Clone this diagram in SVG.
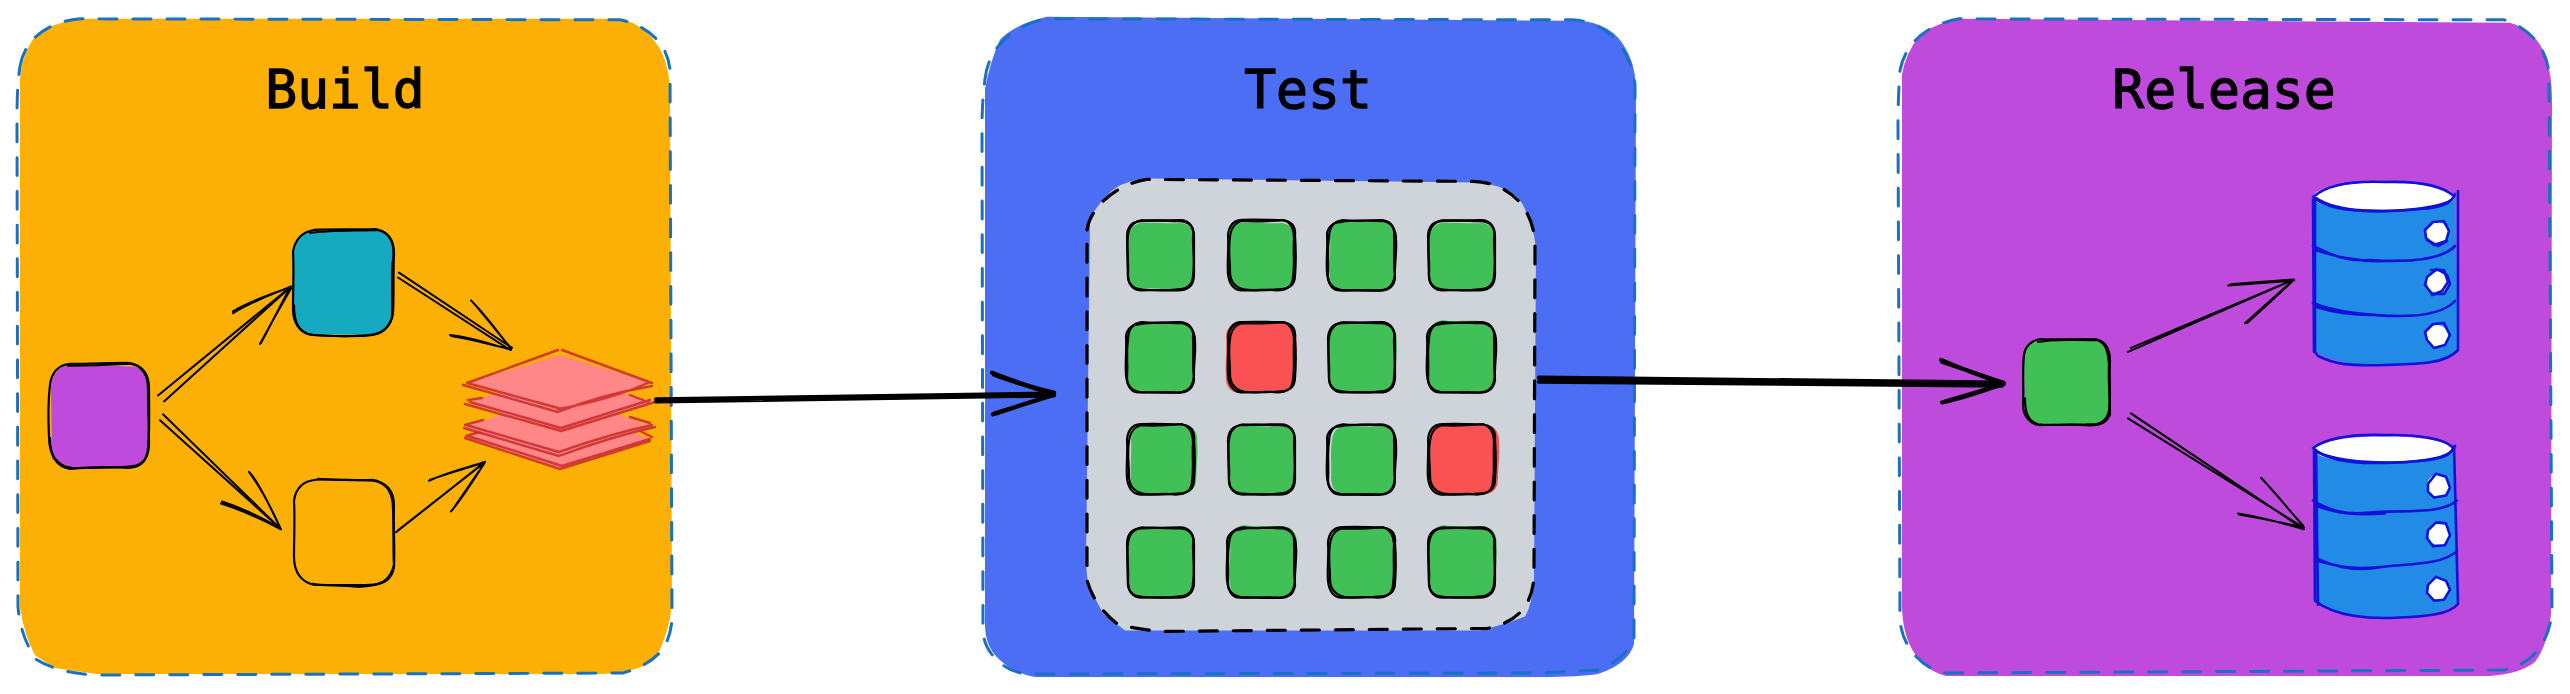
<svg xmlns="http://www.w3.org/2000/svg" width="2570" height="694" viewBox="0 0 2570 694">
<style>
.dash{fill:none;stroke:#1971c2;stroke-width:3;stroke-dasharray:18 16;stroke-linecap:round}
.dashk{fill:none;stroke:#000;stroke-width:3.2;stroke-dasharray:18 16;stroke-linecap:round}
.title{font-family:"DejaVu Sans Mono","Liberation Mono",monospace;font-size:53px;text-anchor:middle;fill:#000;stroke:#000;stroke-width:1.3}
.s{fill:none;stroke:#000;stroke-width:2.2;stroke-linecap:round;stroke-linejoin:round}
.a{fill:none;stroke:#000;stroke-width:2;stroke-linecap:round;stroke-linejoin:round}
.A{fill:none;stroke:#000;stroke-width:4.2;stroke-linecap:round;stroke-linejoin:round}
.g{fill:#40c057}.r{fill:#fa5252}
.p{fill:#ff8787;stroke:none}
.pl{fill:none;stroke:#c92a2a;stroke-opacity:.85;stroke-width:2.4;stroke-linecap:round;stroke-linejoin:round}
.db{fill:#228be6}
.dl{fill:none;stroke:#1111d8;stroke-width:2.6;stroke-linecap:round;stroke-linejoin:round}
.w{fill:#fff}
</style>
<defs>
<path id="f1" d="M13 1C28 0 40 2 54 1C63 2 67 8 67 17C68 30 66 44 67 56C66 66 61 71 51 71C38 72 27 70 14 71C5 70 1 65 0 55C1 42 -1 30 1 16C2 7 6 2 13 1Z"/>
<path id="f2" d="M15 -1C28 1 41 -1 53 0C64 0 70 8 69 19C70 31 68 44 68 56C68 67 62 73 50 72C38 73 27 71 13 73C4 72 -1 66 0 54C-1 42 1 30 0 15C0 6 6 0 15 -1Z"/>
<g id="o1" class="s"><path d="M14 1C28 0 40 1 52 1C62 1 67 7 67 17C67 30 67 42 67 55C67 65 62 71 51 71C38 71 27 70 15 71C6 71 1 65 1 55C0 42 1 30 0 17C0 7 5 1 14 1Z"/><path d="M16 0C30 1 42 0 53 0C63 0 68 8 66 18C66 31 68 43 66 56C66 66 60 70 50 70C37 72 26 71 14 70C5 69 0 64 1 53C2 42 -1 29 1 16C2 6 7 1 16 0"/></g>
<g id="o2" class="s"><path d="M12 0C25 -1 40 0 54 0C63 1 68 6 67 16C68 30 68 44 67 56C67 66 60 70 50 70C38 71 25 71 13 71C5 70 1 64 0 54C-1 42 1 28 0 15C1 6 5 1 12 0Z"/><path d="M15 1C28 2 42 1 55 0C63 2 66 9 66 19C65 32 67 45 65 57C65 66 59 71 49 71C37 69 27 72 16 70C7 68 2 62 2 52C2 40 0 29 2 17C3 8 8 2 15 1"/></g>
<g id="o3" class="s"><path d="M15 0C28 2 40 0 52 0C62 0 67 6 66 16C67 30 65 42 67 54C66 65 62 70 52 71C38 70 28 71 16 71C6 70 0 65 0 56C1 42 -1 30 1 18C1 7 6 1 15 0Z"/><path d="M13 2C27 -1 42 1 55 1C65 3 68 10 68 20C69 32 66 46 67 58C66 68 60 72 48 71C36 72 25 70 12 71C4 71 0 65 -1 53C-2 41 0 27 -1 14C0 6 6 2 13 2"/></g>
</defs>

<g transform="scale(1 .9912)">
<g id="panel-build">
<path fill="#fcb005" d="M80 19L620 19Q642 24 655 42Q668 58 670 90L672 610Q669 640 655 665Q640 678 600 680L97 680L55 674L35 661Q24 640 20 613L20 80Q22 52 38 33Q52 24 80 19Z"/>
<path class="dash" d="M20 67C24 42 45 22 80 19L620 20C648 26 668 44 670 71L672 625C670 650 660 668 623 679L97 681C70 680 50 674 36 665C26 650 20 635 18 612L17 120C17 95 18 80 20 67Z"/>
<text class="title" x="345" y="108.5">Build</text>
</g>

<g id="panel-test">
<path fill="#4c6ef5" d="M1047 17L1580 21Q1612 24 1625 48Q1634 62 1636 85L1634 650Q1628 670 1598 680Q1580 683 1540 683L1035 683Q1015 680 999 665Q985 652 985 630L985 90Q990 62 1000 40Q1015 24 1047 17Z"/>
<path class="dash" d="M985 80C988 50 1010 26 1047 19L1572 20C1610 22 1630 50 1635 85L1634 643C1632 655 1615 670 1598 676L1540 679L1027 680C1005 678 985 660 983 638L982 130C982 110 983 95 985 80Z"/>
<text class="title" x="1308" y="108.5">Test</text>
</g>

<g id="panel-results">
<path fill="#ced4da" d="M1147 180L1473 184Q1510 186 1522 205Q1533 225 1536 250L1534 590Q1530 615 1525 622Q1505 630 1480 636L1125 636L1103 619L1088 590L1086 570L1090 220Q1105 195 1120 187Q1130 182 1147 180Z"/>
<path class="dashk" d="M1087 232C1090 210 1115 186 1147 181L1473 183C1510 184 1533 210 1535 245L1534 580C1533 610 1518 628 1487 634L1165 637C1145 636 1125 632 1118 630C1105 620 1092 605 1087 585Z"/>
</g>

<g id="cell-1-1"><use href="#f1" class="g" transform="translate(1128 224) scale(.98 .95)"/><use href="#o1" x="1127" y="222"/></g>
<g id="cell-1-2"><use href="#f1" class="g" transform="translate(1228 224) scale(.99 .96)"/><use href="#o2" x="1228" y="222"/></g>
<g id="cell-1-3"><use href="#f2" class="g" transform="translate(1330 224) scale(.97 .97)"/><use href="#o3" x="1328" y="222"/></g>
<g id="cell-1-4"><use href="#f1" class="g" transform="translate(1429 224) scale(.98 .96)"/><use href="#o1" x="1428" y="222"/></g>
<g id="cell-2-1"><use href="#f2" class="g" transform="translate(1127 325) scale(.99 .97)"/><use href="#o3" x="1127" y="325"/></g>
<g id="cell-2-2"><use href="#f2" class="r" transform="translate(1226 325) scale(1.02 .98)"/><use href="#o2" x="1228" y="325"/></g>
<g id="cell-2-3"><use href="#f2" class="g" transform="translate(1329 326) scale(.98 .96)"/><use href="#o1" x="1328" y="325"/></g>
<g id="cell-2-4"><use href="#f2" class="g" transform="translate(1428 324) scale(.98 .98)"/><use href="#o3" x="1428" y="325"/></g>
<g id="cell-3-1"><use href="#f2" class="g" transform="translate(1131 428) scale(.96 .97)"/><use href="#o2" x="1127" y="428"/></g>
<g id="cell-3-2"><use href="#f1" class="g" transform="translate(1229 429) scale(.98 .97)"/><use href="#o1" x="1228" y="428"/></g>
<g id="cell-3-3"><use href="#f1" class="g" transform="translate(1331 429) scale(.96 .98)"/><use href="#o3" x="1328" y="428"/></g>
<g id="cell-3-4"><use href="#f2" class="r" transform="translate(1430 428) scale(1 .98)"/><use href="#o2" x="1428" y="428"/></g>
<g id="cell-4-1"><use href="#f1" class="g" transform="translate(1128 532) scale(.98 .98)"/><use href="#o1" x="1127" y="532"/></g>
<g id="cell-4-2"><use href="#f2" class="g" transform="translate(1230 531) scale(.97 .98)"/><use href="#o3" x="1228" y="532"/></g>
<g id="cell-4-3"><use href="#f1" class="g" transform="translate(1329 532) scale(.98 .98)"/><use href="#o2" x="1328" y="532"/></g>
<g id="cell-4-4"><use href="#f2" class="g" transform="translate(1429 531) scale(.98 .98)"/><use href="#o1" x="1428" y="532"/></g>

<g id="panel-release">
<path fill="#be4bdb" d="M1959 19L2510 23Q2535 30 2545 55Q2552 75 2552 100L2551 620Q2548 650 2535 668Q2520 680 2490 682L1946 682Q1925 676 1915 660Q1902 640 1902 610L1902 75Q1905 55 1920 35Q1935 24 1959 19Z"/>
<path class="dash" d="M1900 71C1905 45 1925 25 1959 19L2504 20C2530 28 2548 50 2549 76L2552 616C2550 645 2535 670 2504 676L1946 679C1925 676 1902 655 1900 625L1898 125C1898 105 1899 85 1900 71Z"/>
<text class="title" x="2224" y="108.5">Release</text>
</g>

<g id="node-source">
<path fill="#be4bdb" d="M68 367L134 370C145 372 148 380 148 392L149 450C148 465 142 472 130 472L70 471L52 463L51 392C52 378 58 370 68 367Z"/>
<g class="s"><path d="M70 367C90 367 110 366 128 366C142 368 149 376 149 392C149 410 150 430 148 452C147 465 140 472 128 472C108 470 90 473 72 472C58 470 49 460 49 440C48 420 48 405 50 388C52 374 60 368 70 367Z"/><path d="M68 369C90 369 112 368 130 367C143 369 148 378 148 393C148 412 149 432 149 450C148 464 142 471 126 471C106 472 88 471 70 473C56 471 50 460 50 442"/></g>
</g>
<g id="node-compile">
<path fill="#15aabf" d="M310 233L378 233C390 235 394 245 393 258L392 320C390 332 382 337 370 338L312 337C300 335 293 325 293 312L294 255C296 242 300 235 310 233Z"/>
<g class="s"><path d="M314 232C335 231 355 232 375 231C388 233 394 242 394 256C393 278 394 298 393 316C391 330 382 338 368 338C350 340 330 339 312 338C300 336 293 326 293 312C293 292 294 272 293 254C295 242 302 234 314 232Z"/><path d="M310 235C332 232 358 233 378 232C390 235 395 246 393 262C391 282 393 302 392 320C389 332 378 339 360 339C342 339 325 340 308 337C298 333 294 325 294 308"/></g>
</g>
<g id="node-empty">
<g class="s"><path d="M316 484C338 483 358 485 372 484C386 486 394 495 394 510C393 530 395 552 394 572C392 584 384 590 370 590C350 591 330 590 315 590C302 588 294 578 294 562C294 542 295 520 294 505C296 492 304 485 316 484Z"/><path d="M318 483C338 485 360 484 374 485C388 488 393 498 393 514C394 534 393 555 394 570C390 586 382 591 358 592C340 590 325 591 312 589"/></g>
</g>

<g id="node-staging">
<path class="g" d="M2040 343L2095 342C2106 344 2110 352 2109 366L2109 410C2108 422 2100 428 2090 428L2040 428C2030 427 2024 418 2025 405L2024 360C2025 350 2030 344 2040 343Z"/>
<g class="s"><path d="M2041 342C2060 343 2078 342 2095 342C2105 344 2110 352 2110 364C2109 382 2111 398 2109 414C2107 424 2100 429 2090 428C2072 429 2055 428 2040 429C2030 428 2023 420 2023 408C2024 392 2022 376 2024 358C2025 349 2032 343 2041 342Z"/><path d="M2038 345C2058 341 2080 344 2097 343C2106 346 2108 354 2109 368C2108 384 2110 400 2110 418C2106 428 2098 430 2086 429C2070 427 2052 430 2038 428C2028 425 2025 416 2025 402"/></g>
</g>

<g id="node-db-2">
<path class="db" d="M2313 453L2454 452L2457 608Q2440 622 2385 624Q2335 622 2315 608Z"/>
<ellipse class="w" cx="2384" cy="454" rx="70" ry="14"/>
<g class="dl"><path d="M2313 452C2330 440 2360 438 2385 439C2415 438 2445 442 2453 452C2450 462 2420 466 2385 467C2350 468 2325 464 2313 452Z"/><path d="M2315 455C2340 468 2390 468 2420 465C2440 463 2452 460 2455 450"/><path d="M2314 455L2315 606C2335 622 2370 625 2400 623C2425 622 2450 620 2458 609L2454 450M2316 454L2318 610"/><path d="M2313 505C2330 515 2345 520 2370 517C2400 514 2440 520 2457 505M2316 510C2335 518 2355 520 2385 518"/><path d="M2316 563C2335 572 2355 576 2375 573C2400 568 2440 572 2457 556M2318 566C2340 572 2355 575 2380 572"/></g>
<circle class="w" cx="2438" cy="490" r="11"/><circle class="w" cx="2439" cy="539" r="11"/><circle class="w" cx="2438" cy="594" r="11"/>
<g class="dl"><path d="M2428 488L2436 478L2446 481L2450 492L2446 500L2434 502L2428 496Z"/><path d="M2428 535L2436 527L2446 528L2450 540L2445 550L2433 551L2427 543Z"/><path d="M2428 590L2436 582L2446 586L2450 595L2444 605L2434 606L2427 598Z"/></g>
</g>
</g>

<g id="node-artifacts">
<path class="p" d="M465 437L560 405L652 440L560 468Z"/>
<path class="pl" d="M465 438L560 469L650 441M468 436L562 466L650 439M466 436L483 431M652 437L640 431"/>
<path class="p" d="M464 427L560 395L655 427L559 455Z"/>
<path class="pl" d="M464 428L559 456Q610 437 655 427M466 425L559 452Q610 434 652 425M465 425L483 420M630 417L650 423"/>
<path class="p" d="M468 403L560 372L655 403L561 431Z"/>
<path class="pl" d="M465 404L561 431L655 402M470 402L561 428L650 400M468 400L482 398M630 395L648 402"/>
<path class="p" d="M467 383L560 355L652 383L559 410Z"/>
<path class="pl" d="M463 385L558 412Q600 395 652 386M467 383L558 408M558 409Q610 400 650 382M467 383L558 350M562 350L652 383"/>
</g>

<g id="node-db-1">
<path class="db" d="M2313 197L2455 195L2458 352Q2440 366 2385 366Q2340 366 2315 352Z"/>
<ellipse class="w" cx="2384" cy="197" rx="71" ry="15"/>
<g class="dl"><path d="M2313 197C2330 182 2360 181 2385 182C2415 181 2440 184 2454 196C2452 205 2420 210 2385 211C2350 212 2325 208 2313 197Z"/><path d="M2316 198C2340 214 2390 212 2420 209C2440 208 2452 204 2455 194"/><path d="M2315 200L2315 352L2318 356C2335 364 2345 366 2385 365C2420 364 2445 364 2458 350L2458 191M2313 200L2314 352"/><path d="M2313 246C2330 254 2345 262 2370 260C2400 262 2440 262 2455 246M2315 250C2335 256 2355 262 2385 261"/><path d="M2313 303C2335 312 2370 316 2400 316C2425 316 2445 312 2455 301M2316 307C2335 313 2350 314 2370 315"/></g>
<circle class="w" cx="2437" cy="233" r="11"/><circle class="w" cx="2438" cy="282" r="11"/><circle class="w" cx="2437" cy="336" r="11"/>
<g class="dl"><path d="M2425 230L2433 222L2444 221L2449 231L2446 241L2434 245L2426 238Z"/><path d="M2427 240L2438 246L2447 241"/><path d="M2427 277L2437 269L2447 275L2450 284L2444 294L2432 294L2425 285Z"/><path d="M2431 270L2444 270L2448 282L2442 291L2432 295"/><path d="M2425 332L2433 324L2444 323L2450 335L2445 345L2434 348L2427 340Z"/></g>
</g>

<g id="connectors" transform="scale(1 .9912)">
<g class="a">
<path d="M158 399L291 289M164 405L290 290M233 316C250 305 270 298 291 289M233 314C250 304 272 296 290 290M260 347C270 328 280 310 291 291M261 346L290 290"/>
<path d="M163 418L281 534M160 424L280 533M221 508C240 514 262 524 281 534M222 506C240 512 262 522 280 533M249 476C262 494 272 514 281 534M251 478C264 496 272 516 280 532"/>
<path d="M399 275L512 351M398 280L510 353M450 338C470 340 490 347 511 353M451 339C472 342 490 348 510 352M471 303C486 318 498 335 511 352M472 304C486 320 498 336 510 350"/>
<path d="M396 537L485 466M398 535L484 467M429 485C448 476 466 472 485 466M430 484C448 478 466 472 484 467M451 516C464 500 474 484 485 466M452 515L484 468"/>
<path d="M2128 355L2294 282M2131 351L2292 283M2228 288L2294 283M2230 287C2250 285 2270 284 2292 282M2245 326C2262 311 2278 296 2294 282M2247 326C2262 312 2278 298 2292 284"/>
<path d="M2131 417L2304 534M2128 422L2303 532M2238 518C2262 522 2284 528 2304 534M2239 519C2262 523 2282 527 2303 532M2261 482C2276 498 2290 515 2304 532M2262 483C2276 498 2290 516 2303 530"/>
</g>
<g class="A">
<path d="M656 403L1052 397M656 405L1054 399"/>
<path d="M992 376C1012 384 1032 391 1054 396M994 378C1012 385 1032 391 1052 397M993 418C1012 412 1032 405 1054 398M995 417L1052 399"/>
<path d="M1539 381L2003 386M1539 385L2002 389"/>
<path d="M1941 363C1962 372 1982 380 2004 387M1942 365L2003 386M1942 406C1962 402 1982 395 2004 387M1945 405L2003 388"/>
</g>
</g>
</svg>
